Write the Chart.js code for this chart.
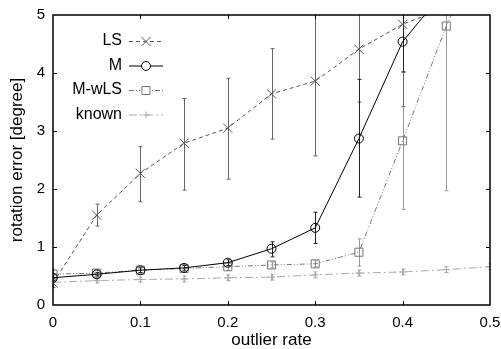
<!DOCTYPE html>
<html>
<head>
<meta charset="utf-8">
<script src="https://cdn.jsdelivr.net/npm/chart.js@4/dist/chart.umd.min.js"></script>
<style>
  html, body { margin: 0; padding: 0; background: #fff; }
  #wrap { width: 501px; height: 349px; }
</style>
</head>
<body>
<div id="wrap"><canvas id="grafico" width="501" height="349"></canvas></div>
<script>
// dados
const outlierRate = [0, 0.05, 0.1, 0.15, 0.2, 0.25, 0.3, 0.35, 0.4, 0.45, 0.5];

const lsMean  = [0.38, 1.55, 2.27, 2.79, 3.05, 3.64, 3.86, 4.41, 4.84, 5.13, null];
const lsLow   = [0.30, 1.36, 1.78, 1.98, 2.17, 2.86, 2.57, 3.50, 3.42, null, null];
const lsHigh  = [0.46, 1.74, 2.73, 3.56, 3.91, 4.42, 5.15, 5.30, 6.26, null, null];

const mMean   = [0.47, 0.53, 0.60, 0.64, 0.73, 0.97, 1.33, 2.87, 4.54, 5.45, null];
const mLow    = [0.42, 0.50, 0.56, 0.60, 0.68, 0.83, 1.06, 1.86, 4.02, null, null];
const mHigh   = [0.52, 0.56, 0.64, 0.68, 0.78, 1.09, 1.60, 3.89, 5.06, null, null];

const mwMean  = [0.53, 0.55, 0.60, 0.63, 0.66, 0.69, 0.71, 0.91, 2.83, 4.81, 6.50];
const mwLow   = [0.45, 0.50, 0.55, 0.58, 0.60, 0.64, 0.66, 0.67, 1.65, 1.97, null];
const mwHigh  = [0.62, 0.60, 0.65, 0.68, 0.72, 0.74, 0.76, 1.14, 4.01, 7.65, null];

const knownMean = [0.39, 0.42, 0.44, 0.45, 0.47, 0.48, 0.52, 0.55, 0.57, 0.61, 0.66];
const knownLow  = [0.35, 0.38, 0.40, 0.40, 0.42, 0.43, 0.47, 0.50, 0.52, 0.56, 0.61];
const knownHigh = [0.43, 0.46, 0.48, 0.50, 0.52, 0.53, 0.57, 0.60, 0.62, 0.66, 0.71];

const xTicks = [0, 0.1, 0.2, 0.3, 0.4, 0.5];
const yTicks = [0, 1, 2, 3, 4, 5];

function pontos(ys) {
    return outlierRate.map((x, i) => ({ x: x, y: ys[i] }));
}

const series = [
    { label: 'LS', mean: lsMean, low: lsLow, high: lsHigh, color: '#555', dash: [4, 3], point: 'crossRot', r: 6.5, barColor: '#666' },
    { label: 'M', mean: mMean, low: mLow, high: mHigh, color: '#000', dash: [], point: 'circle', r: 4.5, barColor: '#222' },
    { label: 'M-wLS', mean: mwMean, low: mwLow, high: mwHigh, color: '#777', dash: [5, 2, 1, 2, 1, 2], point: 'rect', r: 5.7, barColor: '#999' },
    { label: 'known', mean: knownMean, low: knownLow, high: knownHigh, color: '#aaa', dash: [8, 3, 2, 3], point: 'cross', r: 3.5, barColor: '#aaa' }
];

// barras de erro, desenhadas antes das linhas
const errorBars = {
    id: 'errorBars',
    beforeDatasetsDraw(chart) {
        const ctx = chart.ctx, a = chart.chartArea;
        const xs = chart.scales.x, ys = chart.scales.y;
        ctx.save();
        ctx.beginPath();
        ctx.rect(a.left, a.top, a.right - a.left, a.bottom - a.top);
        ctx.clip();
        const ordem = [3, 2, 0, 1];
        ordem.forEach(k => {
            const s = series[k];
            ctx.strokeStyle = s.barColor;
            ctx.lineWidth = 1;
            ctx.setLineDash([]);
            outlierRate.forEach((x, i) => {
                if (s.low[i] == null || s.high[i] == null) return;
                const px = Math.round(xs.getPixelForValue(x)) + 0.5;
                const y1 = ys.getPixelForValue(s.low[i]);
                const y2 = ys.getPixelForValue(s.high[i]);
                ctx.beginPath();
                ctx.moveTo(px, y1); ctx.lineTo(px, y2);
                ctx.moveTo(px - 2, y1); ctx.lineTo(px + 2, y1);
                ctx.moveTo(px - 2, y2); ctx.lineTo(px + 2, y2);
                ctx.stroke();
            });
        });
        ctx.restore();
    }
};

// moldura com ticks para dentro e legenda
const moldura = {
    id: 'moldura',
    afterDraw(chart) {
        const ctx = chart.ctx, a = chart.chartArea;
        const xs = chart.scales.x, ys = chart.scales.y;
        ctx.save();
        ctx.strokeStyle = '#000';
        ctx.lineWidth = 1.5;
        ctx.setLineDash([]);
        ctx.strokeRect(a.left, a.top, a.right - a.left, a.bottom - a.top);
        ctx.lineWidth = 1;
        ctx.beginPath();
        xTicks.slice(1, -1).forEach(v => {
            const px = Math.round(xs.getPixelForValue(v)) + 0.5;
            ctx.moveTo(px, a.bottom); ctx.lineTo(px, a.bottom - 4);
            ctx.moveTo(px, a.top); ctx.lineTo(px, a.top + 4);
        });
        yTicks.slice(1, -1).forEach(v => {
            const py = Math.round(ys.getPixelForValue(v)) + 0.5;
            ctx.moveTo(a.left, py); ctx.lineTo(a.left + 4, py);
            ctx.moveTo(a.right, py); ctx.lineTo(a.right - 4, py);
        });
        ctx.stroke();

        // legenda (texto à esquerda, amostra da linha à direita)
        ctx.font = '16px "Liberation Sans", Arial, sans-serif';
        ctx.textAlign = 'right';
        ctx.textBaseline = 'middle';
        series.forEach((s, i) => {
            const y = 41 + i * 24.5;
            ctx.fillStyle = '#000';
            ctx.fillText(s.label, 122, y);
            ctx.strokeStyle = s.color;
            ctx.lineWidth = 1;
            ctx.setLineDash(s.dash);
            ctx.beginPath();
            ctx.moveTo(129, y + 0.5); ctx.lineTo(163, y + 0.5);
            ctx.stroke();
            ctx.setLineDash([]);
            ctx.fillStyle = '#fff';
            Chart.helpers.drawPoint(ctx, { pointStyle: s.point, radius: s.r, borderWidth: 1 }, 146, y + 0.5);
        });
        ctx.restore();
    }
};

const ctx = document.getElementById('grafico').getContext('2d');
new Chart(ctx, {
    type: 'scatter',
    data: {
        datasets: series.map(s => ({
            label: s.label,
            data: pontos(s.mean),
            showLine: true,
            borderColor: s.color,
            borderWidth: 1,
            borderDash: s.dash,
            pointStyle: s.point,
            pointRadius: s.r,
            pointBorderColor: s.color,
            pointBackgroundColor: 'rgba(0,0,0,0)',
            pointBorderWidth: 1,
            spanGaps: false
        }))
    },
    options: {
        responsive: false,
        animation: false,
        events: [],
        layout: { padding: { top: 15, right: 11, left: 0, bottom: 0 } },
        plugins: { legend: { display: false }, tooltip: { enabled: false } },
        scales: {
            x: {
                type: 'linear',
                min: 0, max: 0.5,
                afterBuildTicks(scale) { scale.ticks = xTicks.map(v => ({ value: v })); },
                afterFit(scale) { scale.height = 44; scale.paddingLeft = 0; scale.paddingRight = 0; },
                grid: { display: false, drawTicks: false },
                border: { display: false },
                ticks: {
                    padding: 9, color: '#000',
                    font: { family: '"Liberation Sans", Arial, sans-serif', size: 15 },
                    callback: v => String(v)
                },
                title: {
                    display: true, text: 'outlier rate', color: '#000',
                    font: { family: '"Liberation Sans", Arial, sans-serif', size: 17 },
                    padding: { top: 0, bottom: -2 }
                }
            },
            y: {
                type: 'linear',
                min: 0, max: 5,
                afterBuildTicks(scale) { scale.ticks = yTicks.map(v => ({ value: v })); },
                afterFit(scale) { scale.width = 53; scale.paddingTop = 0; scale.paddingBottom = 0; },
                grid: { display: false, drawTicks: false },
                border: { display: false },
                ticks: {
                    padding: 8, color: '#000',
                    font: { family: '"Liberation Sans", Arial, sans-serif', size: 15 }
                },
                title: {
                    display: true, text: 'rotation error [degree]', color: '#000',
                    font: { family: '"Liberation Sans", Arial, sans-serif', size: 17 },
                    padding: { top: 7, bottom: 0 }
                }
            }
        }
    },
    plugins: [errorBars, moldura]
});
</script>
</body>
</html>
